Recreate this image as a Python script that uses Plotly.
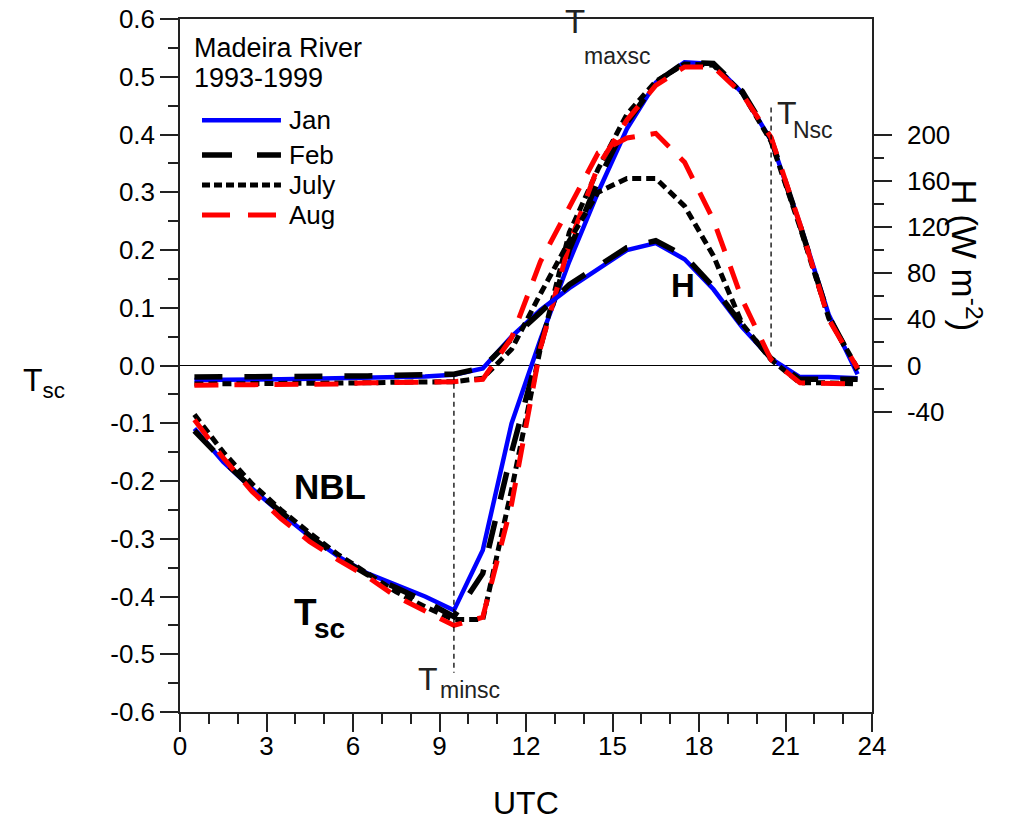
import plotly.graph_objects as go

# Local time axis: hourly means at the half hour (UTC)
hours = [h + 0.5 for h in range(24)]

# Scaled temperature Tsc (left axis)
tsc_jan = [-0.109, -0.167, -0.213, -0.256, -0.296, -0.331, -0.360, -0.380, -0.400, -0.424,
           -0.320, -0.100, 0.045, 0.180, 0.300, 0.410, 0.490, 0.525, 0.522, 0.472,
           0.390, 0.245, 0.088, -0.015]
tsc_feb = [-0.113, -0.165, -0.212, -0.255, -0.295, -0.332, -0.362, -0.385, -0.408, -0.435,
           -0.360, -0.150, 0.035, 0.200, 0.320, 0.420, 0.490, 0.525, 0.523, 0.475,
           0.392, 0.243, 0.085, -0.008]
tsc_jul = [-0.085, -0.150, -0.205, -0.250, -0.290, -0.328, -0.360, -0.392, -0.418, -0.440,
           -0.440, -0.215, 0.030, 0.230, 0.340, 0.435, 0.492, 0.522, 0.520, 0.472,
           0.388, 0.240, 0.082, -0.005]
tsc_aug = [-0.094, -0.160, -0.218, -0.265, -0.305, -0.337, -0.366, -0.400, -0.425, -0.450,
           -0.436, -0.240, 0.030, 0.210, 0.345, 0.425, 0.485, 0.517, 0.517, 0.470,
           0.395, 0.245, 0.080, -0.005]

# Sensible heat flux H in W m-2 (right axis)
h_jan = [-12.5, -12.5, -12, -12, -11.5, -11, -10.5, -10, -9.5, -8,
         -2.5, 25, 48, 67, 84, 100, 106, 92, 66, 33, 6, -10, -10, -11]
h_feb = [-10, -10, -10, -9.5, -9.5, -9, -9, -8.5, -8, -7.5,
         -2, 23, 46, 70, 86, 102, 108, 95, 68, 35, 6, -12, -12, -12]
h_jul = [-16, -16, -16, -15.5, -15.5, -15, -15, -14.5, -14.5, -14,
         -11, 14, 62, 108, 150, 162, 162, 138, 95, 36, 5, -15, -15, -16]
h_aug = [-17, -17, -16.5, -16.5, -16, -16, -15, -15, -14.5, -14,
         -12, 24, 90, 137, 184, 197, 201, 176, 126, 57, 5, -15, -15, -16]

months = ["Jan", "Feb", "July", "Aug"]
tsc_series = [tsc_jan, tsc_feb, tsc_jul, tsc_aug]
h_series = [h_jan, h_feb, h_jul, h_aug]

# Tick labels
x_ticks = list(range(0, 25, 3))
y_ticks = [round(-0.6 + 0.1 * i, 1) for i in range(13)]
y_ticktext = ["%.1f" % v if v >= 0 else "-%.1f" % abs(v) for v in y_ticks]
y2_ticks = [-40, 0, 40, 80, 120, 160, 200]
y2_minor = [-20, 20, 60, 100, 140, 180]
y2_ticktext = [str(v) if v >= 0 else "-%d" % abs(v) for v in y2_ticks]

# Characteristic times: minimum, maximum and neutral Tsc
t_min_hour = 9.5
t_n_hour = 20.5

FONT = "Liberation Sans, Arial, Helvetica, sans-serif"
styles = {
    "Jan": dict(color="#0000ff", width=4.5, dash="solid"),
    "Feb": dict(color="#000000", width=5.5, dash="28px,22px"),
    "July": dict(color="#000000", width=5, dash="9px,5px"),
    "Aug": dict(color="#ff0000", width=5, dash="24px,16px"),
}

fig = go.Figure()
for name, ys in zip(months, tsc_series):
    fig.add_trace(go.Scatter(x=hours, y=ys, mode="lines", name=name,
                             line=styles[name], showlegend=False, yaxis="y"))
for name, ys in zip(months, h_series):
    fig.add_trace(go.Scatter(x=hours, y=ys, mode="lines", name=name + " H",
                             line=styles[name], showlegend=False, yaxis="y2"))

axis_line = dict(showline=True, linecolor="#222", linewidth=1.5, automargin=False)

fig.update_layout(
    width=1016, height=822,
    margin=dict(l=180, r=144, t=19, b=110),
    paper_bgcolor="white", plot_bgcolor="white",
    font=dict(family=FONT, size=26, color="black"),
    xaxis=dict(range=[0, 24], tickvals=x_ticks, ticks="outside", ticklen=18,
               tickwidth=1.5, tickcolor="#222", mirror=True, showgrid=False,
               zeroline=False, ticklabelstandoff=-8,
               minor=dict(dtick=1, ticks="outside", ticklen=10, tickwidth=1.5,
                          tickcolor="#222", showgrid=False),
               **axis_line),
    yaxis=dict(range=[-0.6, 0.6], tickvals=y_ticks, ticktext=y_ticktext,
               ticks="outside", ticklen=18, tickwidth=1.5, tickcolor="#222",
               mirror=True, showgrid=False, zeroline=True, zerolinecolor="black",
               zerolinewidth=1.2,
               minor=dict(dtick=0.05, ticks="outside", ticklen=10, tickwidth=1.5,
                          tickcolor="#222", showgrid=False),
               **axis_line),
    yaxis2=dict(range=[-300, 300], overlaying="y", side="right",
                tickvals=y2_ticks, ticktext=y2_ticktext, ticks="outside",
                ticklen=18, tickwidth=1.5, tickcolor="#222", showgrid=False,
                zeroline=False, ticklabelstandoff=10,
                minor=dict(tickvals=y2_minor, ticks="outside", ticklen=10,
                           tickwidth=1.5, tickcolor="#222", showgrid=False),
                **axis_line),
)

# Guide lines at the characteristic times
guide = dict(color="black", width=1.3, dash="5px,4px")
fig.add_shape(type="line", x0=t_min_hour, x1=t_min_hour, y0=-0.016, y1=-0.532,
              xref="x", yref="y", line=guide)
fig.add_shape(type="line", x0=t_n_hour, x1=t_n_hour, y0=0.033, y1=0.448,
              xref="x", yref="y", line=guide)

# Legend drawn as line samples with labels
legend_y = [0.854, 0.8038, 0.7605, 0.7172]
legend_dash = {"Jan": "solid", "Feb": "30px,25px", "July": "8px,4px", "Aug": "28px,18px"}
for name, ly in zip(months, legend_y):
    st = styles[name]
    fig.add_shape(type="line", xref="paper", yref="paper", x0=0.0318, x1=0.1459,
                  y0=ly, y1=ly,
                  line=dict(color=st["color"], width=st["width"], dash=legend_dash[name]))
    fig.add_annotation(xref="paper", yref="paper", x=0.1546, y=ly, text=name,
                       showarrow=False, xanchor="left", yanchor="middle",
                       font=dict(size=26))

fig.add_annotation(xref="paper", yref="paper", x=0.0173, y=0.958, text="Madeira River",
                   showarrow=False, xanchor="left", yanchor="middle", font=dict(size=27))
fig.add_annotation(xref="paper", yref="paper", x=0.0173, y=0.915, text="1993-1999",
                   showarrow=False, xanchor="left", yanchor="middle", font=dict(size=27))


def label(x, y, text, size, **kw):
    fig.add_annotation(x=x, y=y, text=text, showarrow=False, xanchor="center",
                       yanchor="middle", font=dict(size=size, **kw))


# Labels inside the plot
label(5.2, -0.21, "<b>NBL</b>", 35)
label(4.34, -0.428, "<b>T</b>", 37)
label(5.17, -0.455, "<b>sc</b>", 28)
label(17.45, 0.139, "<b>H</b>", 33)
# T_maxsc
label(13.7, 0.595, "T", 33, color="#222")
label(15.15, 0.536, "maxsc", 23, color="#222")
# T_Nsc
label(21.05, 0.437, "T", 32, color="#222")
label(21.95, 0.408, "Nsc", 23, color="#222")
# T_minsc
label(8.6, -0.542, "T", 32, color="#222")
label(10.05, -0.562, "minsc", 23, color="#222")

# Axis titles
fig.add_annotation(xref="paper", yref="paper", x=0.5, y=-0.131, text="UTC",
                   showarrow=False, xanchor="center", yanchor="middle",
                   font=dict(size=32))
fig.add_annotation(xref="paper", yref="paper", x=-0.197, y=0.476, text="T<sub>sc</sub>",
                   showarrow=False, xanchor="center", yanchor="middle",
                   font=dict(size=32))
fig.add_annotation(xref="paper", yref="paper", x=1.136, y=0.659,
                   text="H (W m<sup>-2</sup>)", textangle=90, showarrow=False,
                   xanchor="center", yanchor="middle", font=dict(size=35))

fig.write_html("out.html")
